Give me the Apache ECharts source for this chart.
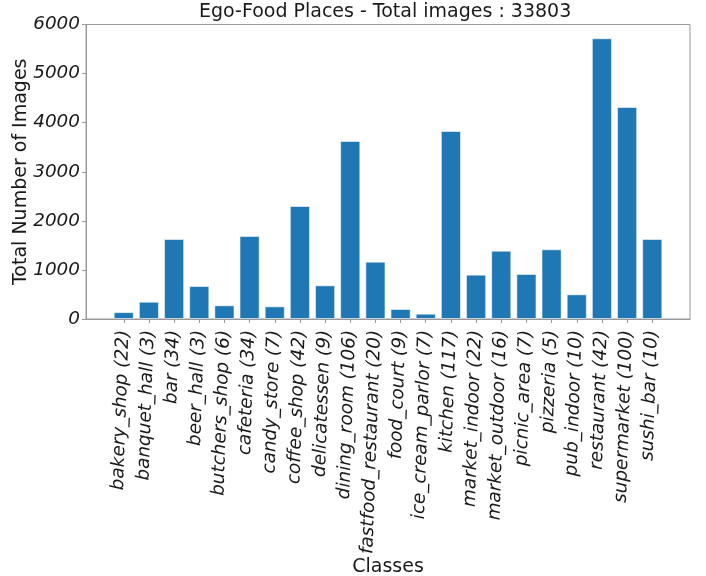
<!DOCTYPE html>
<html>
<head>
<meta charset="utf-8">
<script src="https://cdn.jsdelivr.net/npm/echarts@6/dist/echarts.min.js"></script>
<style>
html,body{margin:0;padding:0;background:#fff;}
#chart{width:706px;height:576px;}
</style>
</head>
<body>
<div id="chart"></div>
<script>
const classes = ['bakery_shop','banquet_hall','bar','beer_hall','butchers_shop','cafeteria','candy_store','coffee_shop','delicatessen','dining_room','fastfood_restaurant','food_court','ice_cream_parlor','kitchen','market_indoor','market_outdoor','picnic_area','pizzeria','pub_indoor','restaurant','supermarket','sushi_bar'];
const classCounts = [22,3,34,3,6,34,7,42,9,106,20,9,7,117,22,16,7,5,10,42,100,10];
const totalImages = [140,352,1630,672,279,1691,258,2302,686,3627,1168,204,108,3830,903,1392,917,1420,503,5719,4320,1630];
const yTicks = [0,1000,2000,3000,4000,5000,6000];
const titleText = 'Ego-Food Places - Total images : 33803';

const labels = classes.map((c, i) => c + ' (' + classCounts[i] + ')');
// pad one empty band at each side to reproduce the plot margins
const axisCats = [''].concat(labels, ['']);
const seriesData = [null].concat(totalImages, [null]);

const FONT = 'DejaVu Sans';
const TXT = '#1a1a1a';
const AX = '#999';
const FS = 19;
const FS_TICK = 18.4;

const chart = echarts.init(document.getElementById('chart'), null, {renderer: 'canvas'});
chart.setOption({
  animation: false,
  backgroundColor: '#fff',
  title: {
    text: titleText,
    left: 199, top: 3, padding: 0,
    textStyle: {fontFamily: FONT, fontSize: FS, fontWeight: 'normal', color: TXT}
  },
  grid: {
    left: 86, right: 16, top: 24.5, bottom: 257,
    containLabel: false, outerBoundsMode: 'none',
    show: true, borderColor: AX, borderWidth: 1, backgroundColor: 'transparent'
  },
  xAxis: {
    type: 'category',
    data: axisCats,
    name: 'Classes',
    nameLocation: 'middle',
    nameGap: 239,
    nameMoveOverlap: false,
    nameTextStyle: {fontFamily: FONT, fontSize: FS, color: TXT},
    axisLine: {show: true, lineStyle: {color: AX, width: 1}},
    axisTick: {show: true, alignWithLabel: true, length: 4, lineStyle: {color: AX},
      interval: function (i) { return i > 0 && i < axisCats.length - 1; }},
    axisLabel: {
      interval: 0, rotate: 88, margin: 11,
      fontFamily: FONT, fontStyle: 'italic', fontSize: FS_TICK, color: TXT
    },
    splitLine: {show: false}
  },
  yAxis: {
    type: 'value',
    min: 0, max: 6000, interval: 1000,
    name: 'Total Number of Images',
    nameLocation: 'middle',
    nameGap: 55,
    nameMoveOverlap: false,
    nameTextStyle: {fontFamily: FONT, fontSize: FS, color: TXT},
    axisLine: {show: true, lineStyle: {color: AX, width: 1}},
    axisTick: {show: true, length: 4, lineStyle: {color: AX}},
    axisLabel: {
      margin: 6, fontFamily: FONT, fontStyle: 'italic', fontSize: FS_TICK, color: TXT,
      formatter: function (v) { return yTicks.indexOf(v) >= 0 ? String(v) : ''; }
    },
    splitLine: {show: false}
  },
  series: [{
    type: 'bar',
    data: seriesData,
    barWidth: '80%',
    itemStyle: {color: '#1f77b4', borderColor: 'rgba(255,255,255,0.55)', borderWidth: 1}
  }]
});
</script>
</body>
</html>
